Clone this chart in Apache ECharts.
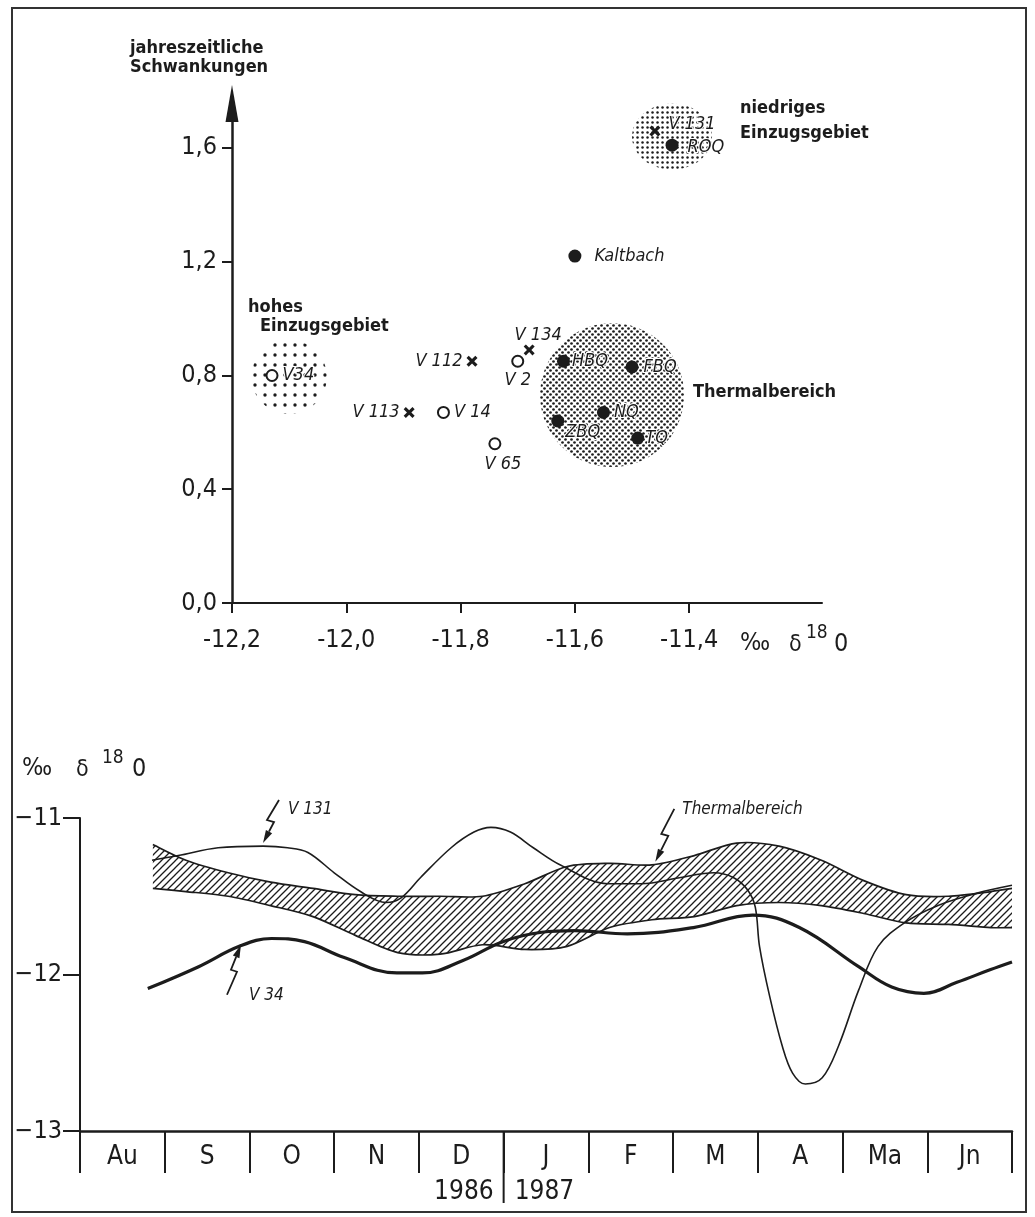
<!DOCTYPE html>
<html><head><meta charset="utf-8">
<script src="https://cdn.jsdelivr.net/npm/echarts@6/dist/echarts.min.js"></script>
<style>html,body{margin:0;padding:0;background:#fff}#c{width:1035px;height:1217px}</style>
</head><body><div id="c"></div>
<script>
// ---------------- DATA (top chart) ----------------
const filledNames = ['ROQ','Kaltbach','HBQ','FBQ','NQ','ZBQ','TQ'];
const filledX = [-11.43,-11.60,-11.62,-11.50,-11.55,-11.63,-11.49];
const filledY = [1.61,1.22,0.85,0.83,0.67,0.64,0.58];
const openNames = ['V34','V 2','V 14','V 65'];
const openX = [-12.13,-11.70,-11.83,-11.74];
const openY = [0.80,0.85,0.67,0.56];
const crossNames = ['V 131','V 134','V 112','V 113'];
const crossX = [-11.46,-11.68,-11.78,-11.89];
const crossY = [1.66,0.89,0.85,0.67];
const regionNames = ['niedriges Einzugsgebiet','hohes Einzugsgebiet','Thermalbereich'];
const regionCX = [-11.43,-12.10,-11.535];
const regionCY = [1.64,0.795,0.731];
const regionRX = [0.07,0.066,0.126];
const regionRY = [0.116,0.13,0.253];
const xTicksTop = [-12.2,-12.0,-11.8,-11.6,-11.4];
const yTicksTop = [0,0.4,0.8,1.2,1.6];

// ---------------- DATA (bottom chart) ----------------
const months = ['Au','S','O','N','D','J','F','M','A','Ma','Jn'];
const years = ['1986','1987'];
const v34T = [0.80,1.40,1.88,2.26,2.65,3.11,3.74,4.04,4.52,4.99,5.45,5.84,6.46,7.24,7.94,8.49,9.19,9.58,9.96,10.35,10.74,11.0];
const v34V = [-12.09,-11.95,-11.82,-11.77,-11.79,-11.89,-11.99,-11.99,-11.91,-11.79,-11.73,-11.72,-11.74,-11.70,-11.62,-11.70,-11.95,-12.08,-12.12,-12.05,-11.97,-11.92];
const v131T = [0.85,1.16,1.63,2.16,2.45,2.69,3.00,3.31,3.61,3.79,4.02,4.38,4.65,4.85,5.08,5.35,5.67,6.23,6.62,7.09,7.48,7.71,7.88,7.97,8.02,8.14,8.29,8.41,8.56,8.76,8.95,9.19,9.42,9.73,10.12,10.59,11.0];
const v131V = [-11.27,-11.24,-11.19,-11.18,-11.19,-11.22,-11.35,-11.47,-11.54,-11.51,-11.38,-11.19,-11.09,-11.06,-11.09,-11.19,-11.30,-11.42,-11.42,-11.38,-11.35,-11.38,-11.46,-11.57,-11.82,-12.14,-12.46,-12.63,-12.70,-12.66,-12.46,-12.10,-11.82,-11.67,-11.56,-11.48,-11.43];
const bandT = [0.86,1.25,1.75,2.25,2.75,3.25,3.75,4.25,4.75,5.25,5.75,6.25,6.75,7.25,7.75,8.25,8.75,9.25,9.75,10.25,10.75,11.0];
const bandUpper = [-11.17,-11.27,-11.35,-11.41,-11.45,-11.49,-11.50,-11.50,-11.50,-11.42,-11.31,-11.29,-11.30,-11.24,-11.16,-11.18,-11.27,-11.40,-11.49,-11.50,-11.47,-11.45];
const bandLower = [-11.45,-11.47,-11.50,-11.56,-11.63,-11.75,-11.86,-11.87,-11.81,-11.84,-11.82,-11.70,-11.65,-11.63,-11.56,-11.54,-11.56,-11.61,-11.67,-11.68,-11.70,-11.70];
const yTicksBottom = [-13,-12,-11];

// ---------------- STYLE ----------------
const FONT = "'DejaVu Sans Condensed','Liberation Sans Narrow','DejaVu Sans',sans-serif";
const INK = '#1c1c1c';

function makePattern(w, h, draw) {
  const c = document.createElement('canvas');
  c.width = w; c.height = h;
  const ctx = c.getContext('2d');
  draw(ctx, w, h);
  return { image: c, repeat: 'repeat' };
}
const hatch = makePattern(7, 7, (ctx, w, h) => {
  ctx.strokeStyle = INK; ctx.lineWidth = 1.3;
  ctx.beginPath();
  ctx.moveTo(-1, h + 1); ctx.lineTo(w + 1, -1);
  ctx.moveTo(-2, 2); ctx.lineTo(2, -2);
  ctx.moveTo(w - 2, h + 2); ctx.lineTo(w + 2, h - 2);
  ctx.stroke();
});
const dotsDense = makePattern(6, 6, (ctx) => {
  ctx.fillStyle = INK;
  ctx.beginPath(); ctx.arc(1.5, 1.5, 1.35, 0, Math.PI * 2); ctx.fill();
  ctx.beginPath(); ctx.arc(4.5, 4.5, 1.35, 0, Math.PI * 2); ctx.fill();
});
const dotsMedium = makePattern(5, 5, (ctx) => {
  ctx.fillStyle = INK;
  ctx.beginPath(); ctx.arc(2.5, 2.5, 1.25, 0, Math.PI * 2); ctx.fill();
});
const dotsCoarse = makePattern(10, 10, (ctx) => {
  ctx.fillStyle = INK;
  ctx.beginPath(); ctx.arc(5, 5, 1.7, 0, Math.PI * 2); ctx.fill();
});
const regionPatterns = [dotsMedium, dotsCoarse, dotsDense];

const labelPlace = {
  'ROQ': {position: 'right', distance: 9, offset: [0, 2]},
  'Kaltbach': {position: 'right', distance: 13},
  'HBQ': {position: 'right', distance: 2},
  'FBQ': {position: 'right', distance: 5},
  'NQ': {position: 'right', distance: 4},
  'ZBQ': {position: 'right', distance: 1, offset: [0, 11]},
  'TQ': {position: 'right', distance: 1},
  'V34': {position: 'right', distance: 4},
  'V 2': {position: 'bottom', distance: 4},
  'V 14': {position: 'right', distance: 4},
  'V 65': {position: 'bottom', distance: 5, offset: [8, 0]},
  'V 131': {position: 'right', distance: 8, offset: [0, -7]},
  'V 134': {position: 'top', distance: 0, offset: [9, 0]},
  'V 112': {position: 'left', distance: 4},
  'V 113': {position: 'left', distance: 4}
};
function pointItems(names, xs, ys) {
  return names.map((n, i) => ({name: n, value: [xs[i], ys[i]], label: labelPlace[n]}));
}
const zip = (a, b) => a.map((v, i) => [v, b[i]]);
const fmtComma = v => v.toFixed(1).replace('.', ',');

const labelStyle = {show: true, formatter: '{b}', fontFamily: FONT, fontStyle: 'italic', fontSize: 18, color: INK,
                    textBorderColor: '#fff', textBorderWidth: 2};

// smooth open curve (Catmull-Rom -> cubic Bezier) through pixel points
function curvePath(pts, start) {
  let d = start ? 'M' + pts[0][0] + ',' + pts[0][1] : 'L' + pts[0][0] + ',' + pts[0][1];
  const k = 0.9 / 6;
  for (let i = 0; i < pts.length - 1; i++) {
    const p0 = pts[Math.max(i - 1, 0)], p1 = pts[i], p2 = pts[i + 1], p3 = pts[Math.min(i + 2, pts.length - 1)];
    const c1 = [p1[0] + (p2[0] - p0[0]) * k, p1[1] + (p2[1] - p0[1]) * k];
    const c2 = [p2[0] - (p3[0] - p1[0]) * k, p2[1] - (p3[1] - p1[1]) * k];
    d += 'C' + c1[0] + ',' + c1[1] + ' ' + c2[0] + ',' + c2[1] + ' ' + p2[0] + ',' + p2[1];
  }
  return d;
}

const option = {
  animation: false,
  backgroundColor: '#fff',
  grid: [
    {left: 232, top: 122, width: 590, height: 481, outerBoundsMode: 'none', containLabel: false},
    {left: 80, top: 818, width: 932, height: 313, outerBoundsMode: 'none', containLabel: false}
  ],
  xAxis: [
    {type: 'value', gridIndex: 0, min: -12.2, max: -11.1676,
     axisLine: {lineStyle: {color: INK, width: 2}},
     axisTick: {show: true, customValues: xTicksTop, length: 10, lineStyle: {color: INK, width: 2}},
     axisLabel: {customValues: xTicksTop, formatter: fmtComma, fontFamily: FONT, fontSize: 25, color: INK, margin: 25},
     splitLine: {show: false}},
    {type: 'value', gridIndex: 1, min: 0, max: 11,
     axisLine: {lineStyle: {color: INK, width: 2.5}},
     axisTick: {show: true, customValues: [0,1,2,3,4,5,6,7,8,9,10,11], length: 42, lineStyle: {color: INK, width: 2}},
     axisLabel: {customValues: months.map((m, i) => i + 0.5), formatter: v => months[Math.floor(v)],
                 fontFamily: FONT, fontSize: 26, color: INK, margin: 13},
     splitLine: {show: false}}
  ],
  yAxis: [
    {type: 'value', gridIndex: 0, min: 0, max: 1.6914,
     axisLine: {show: true, symbol: ['none', 'triangle'], symbolSize: [13, 37], symbolOffset: [0, 18.5],
                lineStyle: {color: INK, width: 2.5}},
     axisTick: {show: true, customValues: yTicksTop, length: 10, lineStyle: {color: INK, width: 2}},
     axisLabel: {customValues: yTicksTop, formatter: fmtComma, fontFamily: FONT, fontSize: 25, color: INK, margin: 15},
     splitLine: {show: false}},
    {type: 'value', gridIndex: 1, min: -13, max: -11, interval: 1,
     axisLine: {show: true, lineStyle: {color: INK, width: 2}},
     axisTick: {show: true, customValues: yTicksBottom, length: 17, lineStyle: {color: INK, width: 2}},
     axisLabel: {customValues: yTicksBottom, formatter: v => '\u2212' + Math.abs(v), fontFamily: FONT, fontSize: 25, color: INK, margin: 18},
     splitLine: {show: false}}
  ],
  series: [
    {type: 'custom', name: 'Bereiche', xAxisIndex: 0, yAxisIndex: 0, z: 1, silent: true,
     data: regionNames.map((n, i) => [regionCX[i], regionCY[i], regionRX[i], regionRY[i], i]),
     encode: {x: 0, y: 1},
     renderItem: function (params, api) {
       const cx = api.value(0), cy = api.value(1), rx = api.value(2), ry = api.value(3), idx = api.value(4);
       const c = api.coord([cx, cy]);
       const e = api.coord([cx + rx, cy + ry]);
       const prx = Math.abs(e[0] - c[0]), pry = Math.abs(e[1] - c[1]);
       const pts = [];
       for (let k = 0; k < 72; k++) {
         const a = k / 72 * Math.PI * 2;
         pts.push([c[0] + prx * Math.cos(a), c[1] + pry * Math.sin(a)]);
       }
       return {type: 'polygon', shape: {points: pts}, style: {fill: regionPatterns[idx], stroke: null}};
     }},
    {type: 'scatter', name: 'filled', xAxisIndex: 0, yAxisIndex: 0, z: 5, symbol: 'circle', symbolSize: 13,
     itemStyle: {color: INK, opacity: 1}, label: labelStyle, data: pointItems(filledNames, filledX, filledY)},
    {type: 'scatter', name: 'open', xAxisIndex: 0, yAxisIndex: 0, z: 5, symbol: 'circle', symbolSize: 11,
     itemStyle: {color: '#fff', borderColor: INK, borderWidth: 2, opacity: 1}, label: labelStyle, data: pointItems(openNames, openX, openY)},
    {type: 'scatter', name: 'cross', xAxisIndex: 0, yAxisIndex: 0, z: 5,
     symbol: 'path://M2,0 L5,3 L8,0 L10,2 L7,5 L10,8 L8,10 L5,7 L2,10 L0,8 L3,5 L0,2 Z', symbolSize: 11,
     itemStyle: {color: INK, opacity: 1}, label: labelStyle, data: pointItems(crossNames, crossX, crossY)},

    {type: 'custom', name: 'Thermalbereich', xAxisIndex: 1, yAxisIndex: 1, z: 2, silent: true,
     data: bandT.map((t, i) => [t, bandUpper[i], bandLower[i]]),
     encode: {x: 0, y: [1, 2]},
     renderItem: function (params, api) {
       if (params.dataIndex !== 0) return null;
       const up = bandT.map((t, i) => api.coord([t, bandUpper[i]]));
       const lo = bandT.map((t, i) => api.coord([t, bandLower[i]]));
       const upPath = curvePath(up, true);
       const loRev = lo.slice().reverse();
       const area = upPath + curvePath(loRev, false) + 'Z';
       return {type: 'group', children: [
         {type: 'path', shape: {pathData: area}, style: {fill: hatch, stroke: null}},
         {type: 'path', shape: {pathData: upPath}, style: {fill: null, stroke: INK, lineWidth: 1.7}},
         {type: 'path', shape: {pathData: curvePath(lo, true)}, style: {fill: null, stroke: INK, lineWidth: 1.7}}
       ]};
     }},
    {type: 'line', name: 'V 131', xAxisIndex: 1, yAxisIndex: 1, smooth: 0.35, showSymbol: false, symbol: 'none', z: 3,
     lineStyle: {color: INK, width: 1.6}, data: zip(v131T, v131V)},
    {type: 'line', name: 'V 34', xAxisIndex: 1, yAxisIndex: 1, smooth: 0.4, showSymbol: false, symbol: 'none', z: 4,
     lineStyle: {color: INK, width: 3.2}, data: zip(v34T, v34V)}
  ]
};

const chart = echarts.init(document.getElementById('c'), null, {renderer: 'canvas'});
chart.setOption(option);

function px(g, pt) { return chart.convertToPixel({xAxisIndex: g, yAxisIndex: g}, pt); }
function txt(x, y, text, size, opts) {
  return Object.assign({type: 'text', silent: true, z: 20,
    style: Object.assign({x: x, y: y, text: text, fill: INK, font: (opts && opts.font) || ('bold ' + size + 'px ' + FONT),
      textAlign: 'left', textVerticalAlign: 'middle'}, (opts && opts.style) || {})});
}
function lightning(tip, rel) {
  const pts = rel.map(r => [tip[0] + r[0], tip[1] + r[1]]);
  const a = pts[pts.length - 2], b = pts[pts.length - 1];
  const dx = b[0] - a[0], dy = b[1] - a[1], L = Math.hypot(dx, dy);
  const ux = dx / L, uy = dy / L, nx = -uy, ny = ux;
  const hl = 13, hw = 3.5;
  const base = [b[0] - ux * hl, b[1] - uy * hl];
  return [
    {type: 'polyline', silent: true, z: 20, shape: {points: pts.slice(0, -1).concat([base])}, style: {stroke: INK, lineWidth: 1.8, fill: null}},
    {type: 'polygon', silent: true, z: 20, shape: {points: [b, [base[0] + nx * hw, base[1] + ny * hw], [base[0] - nx * hw, base[1] - ny * hw]]}, style: {fill: INK}}
  ];
}

const tipV131 = px(1, [2.16, -11.16]);
const tipTherm = px(1, [6.79, -11.28]);
const tipV34 = px(1, [1.90, -11.81]);
const divTop = px(1, [5, -13]);
const italic = size => 'italic ' + size + 'px ' + FONT;
const xAxisEnd = px(0, [-11.1676, 0]);

const graphics = [
  {type: 'rect', silent: true, z: 0, shape: {x: 12, y: 8, width: 1014, height: 1204}, style: {fill: null, stroke: '#333', lineWidth: 2}},
  txt(130, 48, 'jahreszeitliche', 18),
  txt(130, 67, 'Schwankungen', 18),
  txt(740, 108, 'niedriges', 18),
  txt(740, 133, 'Einzugsgebiet', 18),
  txt(248, 307, 'hohes', 18),
  txt(260, 326, 'Einzugsgebiet', 18),
  txt(693, 392, 'Thermalbereich', 18),
  // top x axis name
  txt(xAxisEnd[0] - 82, 643, '\u2030', 25, {font: '25px ' + FONT}),
  txt(xAxisEnd[0] - 33, 645, '\u03b4', 23, {font: '23px ' + FONT}),
  txt(xAxisEnd[0] - 16, 633, '18', 19, {font: '19px ' + FONT}),
  txt(xAxisEnd[0] + 12, 644, '0', 25, {font: '25px ' + FONT}),
  // bottom y axis name
  txt(22, 768, '\u2030', 25, {font: '25px ' + FONT}),
  txt(76, 770, '\u03b4', 23, {font: '23px ' + FONT}),
  txt(102, 758, '18', 19, {font: '19px ' + FONT}),
  txt(132, 769, '0', 25, {font: '25px ' + FONT}),
  // year divider and years
  {type: 'line', silent: true, z: 20, shape: {x1: divTop[0], y1: divTop[1], x2: divTop[0], y2: divTop[1] + 72}, style: {stroke: INK, lineWidth: 2}},
  txt(divTop[0] - 10, divTop[1] + 61, years[0], 26, {font: '26px ' + FONT, style: {textAlign: 'right'}}),
  txt(divTop[0] + 11, divTop[1] + 61, years[1], 26, {font: '26px ' + FONT}),
  // annotation labels bottom chart
  txt(tipV131[0] + 25, tipV131[1] - 33, 'V 131', 17, {font: italic(17)}),
  txt(tipTherm[0] + 27, tipTherm[1] - 52, 'Thermalbereich', 17, {font: italic(17)}),
  txt(tipV34[0] + 8, tipV34[1] + 51, 'V 34', 17, {font: italic(17)})
].concat(
  lightning(tipV131, [[16, -43], [4, -23], [11, -21], [0, 0]]),
  lightning(tipTherm, [[19, -53], [6, -28], [13, -26], [0, 0]]),
  lightning(tipV34, [[-14, 50], [-4, 27], [-10, 25], [0, 0]])
);
chart.setOption({graphic: graphics});
</script></body></html>
